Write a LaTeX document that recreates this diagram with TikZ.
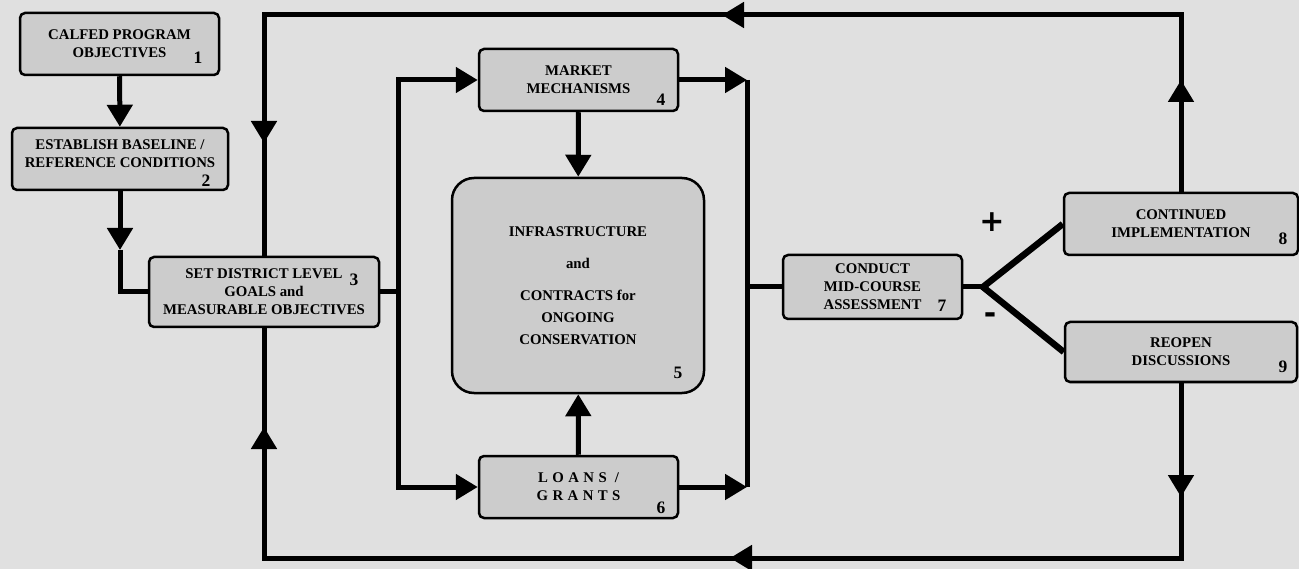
\documentclass[tikz,border=0pt]{standalone}
\usepackage{fontspec}
\setmainfont{Liberation Serif}
\newfontfamily\signfont{DejaVu Sans}
\usetikzlibrary{arrows.meta}

\definecolor{scanbg}{RGB}{224,224,224}
\definecolor{boxgray}{RGB}{204,204,204}

\begin{document}
\begin{tikzpicture}[x=1pt, y=-1pt,
    box/.style={draw, line width=2.5pt, fill=boxgray, rounded corners=5pt,
        align=center, inner sep=0pt, font=\bfseries\fontsize{14.8}{18}\selectfont},
    num/.style={inner sep=0pt, font=\bfseries\fontsize{17.5}{17.5}\selectfont},
    sign/.style={inner sep=0pt, font=\signfont\bfseries\fontsize{30}{30}\selectfont},
    link/.style={line width=5pt},
    arr/.style={line width=5pt, -{Triangle[length=22pt,width=25pt]}},
    fork/.style={line width=6.5pt}]

    % Page
    \useasboundingbox (0,0) rectangle (1299,569);
    \fill[scanbg] (0,0) rectangle (1299,569);

    % Boxes
    \node[box, minimum width=199, minimum height=62] (calfed) at (119.5,44) {CALFED PROGRAM\\OBJECTIVES};
    \node[box, minimum width=216, minimum height=62] (baseline) at (120,159)
        {ESTABLISH BASELINE /\\REFERENCE CONDITIONS\rule[-10pt]{0pt}{0pt}};
    \node[box, minimum width=230, minimum height=70] (goals) at (264,292) {SET DISTRICT LEVEL\\GOALS and\\MEASURABLE OBJECTIVES};
    \node[box, minimum width=199, minimum height=62] (market) at (578.5,80) {MARKET\\MECHANISMS};
    \node[box, minimum width=252, minimum height=215, rounded corners=22pt,
        font=\bfseries\fontsize{14.8}{22}\selectfont] (infra) at (578,285.5)
        {INFRASTRUCTURE\\[10pt]and\\[10pt]CONTRACTS for\\ONGOING\\CONSERVATION};
    \node[box, minimum width=199, minimum height=62] (loans) at (578.5,487)
        {\addfontfeatures{LetterSpace=30}LOANS /\\\addfontfeatures{LetterSpace=30}GRANTS};
    \node[box, minimum width=179, minimum height=64] (midcourse) at (872.5,287) {CONDUCT\\MID-COURSE\\ASSESSMENT\hspace{9pt}};
    \node[box, minimum width=234, minimum height=62] (continued) at (1181,224) {CONTINUED\\IMPLEMENTATION};
    \node[box, minimum width=232, minimum height=60] (reopen) at (1181,352) {REOPEN\\DISCUSSIONS};

    % Numbers
    \node[num] (n1) at (198,58) {1};
    \node[num] (n2) at (206,181) {2};
    \node[num] (n3) at (354,280) {3};
    \node[num] (n4) at (661,100) {4};
    \node[num] (n5) at (678,373) {5};
    \node[num] (n6) at (661,508) {6};
    \node[num] (n7) at (942,306) {7};
    \node[num] (n8) at (1283,239) {8};
    \node[num] (n9) at (1283,367) {9};

    % Left column
    \draw[arr] (calfed) -- (baseline);
    \coordinate (t23) at (120,250);
    \draw[arr] (baseline) -- (t23);
    \draw[link] (t23) |- (goals.west);

    % Outer loop, top
    \coordinate (tl) at (264,15);
    \coordinate (tarr) at (722,15);
    \coordinate (tdown) at (264,143);
    \coordinate (rup) at (1181,80);
    \draw[link] (continued.north) |- (tl) -- (goals.north);
    \draw[arr] (continued.north) -- (rup);
    \draw[arr] (continued.north |- tl) -- (tarr);
    \draw[arr] (tl) -- (tdown);

    % Outer loop, bottom
    \coordinate (bl) at (264,558);
    \coordinate (barr) at (730,558);
    \coordinate (bup) at (264,427);
    \coordinate (rdown) at (1181,497);
    \draw[link] (reopen.south) |- (bl) -- (goals.south);
    \draw[arr] (reopen.south) -- (rdown);
    \draw[arr] (reopen.south |- bl) -- (barr);
    \draw[arr] (bl) -- (bup);

    % Inner split and merge
    \coordinate (split) at (398,292);
    \coordinate (merge) at (747,287);
    \draw[link] (goals.east) -- (split);
    \draw[arr] (split) |- (market.west);
    \draw[arr] (split) |- (loans.west);
    \draw[arr] (market) -- (infra);
    \draw[arr] (loans) -- (infra);
    \draw[arr] (market.east) -- (market.east -| merge);
    \draw[arr] (loans.east) -- (loans.east -| merge);
    \draw[link] (market.east -| merge) -- (loans.east -| merge);
    \draw[link] (merge) -- (midcourse.west);

    % Outcome fork
    \coordinate (fk) at (983,287);
    \draw[link] (midcourse.east) -- (fk);
    \draw[fork] (continued.west) -- (fk) -- (reopen.west);
    \node[sign] (plus) at (992,222) {+};
    \node[sign] (minus) at (990,318) {-};
\end{tikzpicture}
\end{document}
